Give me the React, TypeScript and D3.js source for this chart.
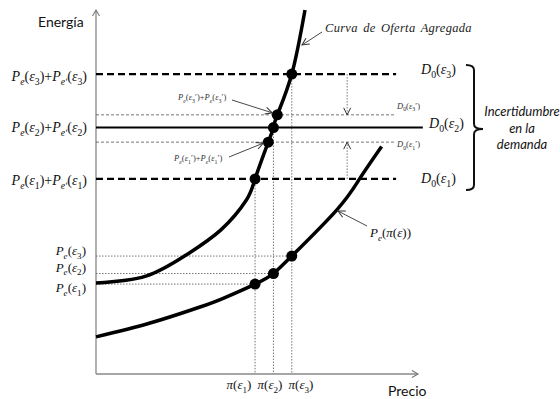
import React from "react";
import * as d3 from "d3";

// ---- data (price 0-100, energy 0-100) ----
const supplyPrice = [0, 15.5, 28, 38.8, 46.7, 49.4, 53.5, 55.1, 56.3, 60.8, 64.9];
const supplyEnergy = [25, 26.9, 32.7, 39.6, 47.8, 53.6, 63.7, 67.7, 71.2, 82.4, 100];
const pePrice = [0, 16.8, 32.3, 39.5, 49.4, 55.1, 60.8, 74.8, 82, 88.7];
const peEnergy = [10.2, 14, 18.4, 20.8, 24.7, 27.6, 32.4, 45.1, 53.8, 62.5];
const scenarios = ["1", "2", "3"];
const piValues = [49.4, 55.1, 60.8];
const demandLevels = [53.6, 67.7, 82.4];
const peAtPi = [24.7, 27.6, 32.4];
const primeLevels = [63.7, 71.2];
const primePrices = [53.5, 56.3];
const demandEnd = [93.2, 101.5, 93.2];
const uncertaintyArrowPrice = 78;

const W = 560, H = 399;
const x = d3.scaleLinear().domain([0, 100]).range([96, 418]);
const y = d3.scaleLinear().domain([0, 100]).range([374, 10]);

type Seg = { t: string; sub?: boolean; it?: boolean };

const SERIF = "'Liberation Serif', 'Times New Roman', serif";
const SANS = "Lato, 'Liberation Sans', Arial, sans-serif";

function MathT({ segs, fs, ...rest }: any) {
  const out: any[] = [];
  let shifted = false;
  segs.forEach((s: Seg, i: number) => {
    let dy = 0;
    if (s.sub && !shifted) { dy = fs * 0.3; shifted = true; }
    else if (!s.sub && shifted) { dy = -fs * 0.3; shifted = false; }
    out.push(
      <tspan key={i} dy={dy || undefined} fontSize={s.sub ? fs * 0.7 : fs} fontStyle={s.it ? "italic" : "normal"}>
        {s.t}
      </tspan>
    );
  });
  return (
    <text fontFamily={SERIF} fontSize={fs} {...rest}>
      {out}
    </text>
  );
}

const P = (sub: string, s: string, prime = false): Seg[] => [
  { t: "P", it: true },
  { t: sub, sub: true, it: true },
  { t: "(" },
  { t: "ε", it: true },
  { t: s, sub: true },
  { t: prime ? "ʹ)" : ")" },
];
const sumLabel = (s: string, prime = false): Seg[] => [
  ...P("e", s, prime),
  { t: "+" },
  ...P(prime ? "e" : "eʹ", s, prime),
];
const D0 = (s: string, prime = false): Seg[] => [
  { t: "D", it: true },
  { t: "0", sub: true },
  { t: "(" },
  { t: "ε", it: true },
  { t: s, sub: true },
  { t: prime ? "ʹ)" : ")" },
];
const piLabel = (s: string): Seg[] => [
  { t: "π", it: true },
  { t: "(" },
  { t: "ε", it: true },
  { t: s, sub: true },
  { t: ")" },
];

export default function App() {
  const line = d3.line<number>().curve(d3.curveNatural);
  const supplyPath = line(supplyPrice.map((p, i) => [x(p), y(supplyEnergy[i])] as any) as any);
  const pePath = line(pePrice.map((p, i) => [x(p), y(peEnergy[i])] as any) as any);
  const gray = "#666";
  const leftLabelOffsets = [2, 0, 3];
  const peLabelOffsets = [4, -6, -5];
  const d0Offsets = [8, 4, 4];
  const d0X = [421, 429, 421];
  const piLabelX = [239, 270, 301];

  return (
    <svg width={W} height={H} style={{ position: "absolute", left: 0, top: 0, background: "#fff" }}>
      <defs>
        <marker id="open" viewBox="-8 -5 10 10" refX="0" refY="0" markerWidth="10" markerHeight="10" orient="auto" markerUnits="userSpaceOnUse">
          <path d="M-7,-3.5 L0,0 L-7,3.5" fill="none" stroke="#333" strokeWidth={1} />
        </marker>
        <marker id="axisArrow" viewBox="-8 -5 10 10" refX="0" refY="0" markerWidth="10" markerHeight="10" orient="auto" markerUnits="userSpaceOnUse">
          <path d="M-6,-3.5 L0,0 L-6,3.5" fill="none" stroke="#777" strokeWidth={1.1} />
        </marker>
      </defs>
      <rect width={W} height={H} fill="#fff" />

      {/* axes */}
      <line x1={x(0)} y1={y(0)} x2={x(0)} y2={y(100)} stroke="#888" strokeWidth={1.3} markerEnd="url(#axisArrow)" />
      <line x1={x(0)} y1={y(0)} x2={x(100)} y2={y(0)} stroke="#888" strokeWidth={1.3} markerEnd="url(#axisArrow)" />
      <text x={38} y={27} fontFamily={SANS} fontSize={14} fill="#111">Energía</text>
      <text x={388} y={396} fontFamily={SANS} fontSize={14} fill="#111">Precio</text>

      {/* dotted guides */}
      {piValues.map((p, i) => (
        <g key={"g" + i}>
          <line x1={x(p)} x2={x(p)} y1={y(demandLevels[i])} y2={y(0)} stroke={gray} strokeWidth={0.9} strokeDasharray="1.5,1.5" />
          <line x1={x(0)} x2={x(p)} y1={y(peAtPi[i])} y2={y(peAtPi[i])} stroke={gray} strokeWidth={0.9} strokeDasharray="1.5,1.5" />
        </g>
      ))}
      {primeLevels.map((lv, i) => (
        <line key={"pl" + i} x1={x(0)} x2={x(93.2)} y1={y(lv)} y2={y(lv)} stroke={gray} strokeWidth={0.9} strokeDasharray="3,2" />
      ))}

      {/* demand lines */}
      {demandLevels.map((lv, i) => (
        <line key={"d" + i} x1={x(0)} x2={x(demandEnd[i])} y1={y(lv)} y2={y(lv)} stroke="#000"
          strokeWidth={i === 1 ? 2 : 2.2} strokeDasharray={i === 1 ? undefined : "7,4"} />
      ))}

      {/* uncertainty arrows */}
      <line x1={x(uncertaintyArrowPrice)} x2={x(uncertaintyArrowPrice)} y1={y(demandLevels[2])} y2={y(primeLevels[1])} stroke={gray} strokeWidth={0.9} strokeDasharray="1.5,1.5" markerEnd="url(#open)" />
      <line x1={x(uncertaintyArrowPrice)} x2={x(uncertaintyArrowPrice)} y1={y(demandLevels[0])} y2={y(primeLevels[0])} stroke={gray} strokeWidth={0.9} strokeDasharray="1.5,1.5" markerEnd="url(#open)" />

      {/* curves */}
      <path d={supplyPath || ""} fill="none" stroke="#000" strokeWidth={3.5} />
      <path d={pePath || ""} fill="none" stroke="#000" strokeWidth={3.5} />

      {/* dots */}
      {piValues.map((p, i) => (
        <g key={"dot" + i}>
          <circle cx={x(p)} cy={y(demandLevels[i])} r={5.5} fill="#000" />
          <circle cx={x(p)} cy={y(peAtPi[i])} r={5.5} fill="#000" />
        </g>
      ))}
      {primePrices.map((p, i) => (
        <circle key={"pd" + i} cx={x(p)} cy={y(primeLevels[i])} r={5.5} fill="#000" />
      ))}

      {/* left labels */}
      {scenarios.map((s, i) => (
        <MathT key={"ll" + i} segs={sumLabel(s)} fs={14} x={87} y={y(demandLevels[i]) + 4 + leftLabelOffsets[i]} textAnchor="end" fill="#111" />
      ))}
      {scenarios.map((s, i) => (
        <MathT key={"pl" + i} segs={P("e", s)} fs={13} x={86} y={y(peAtPi[i]) + 4 + peLabelOffsets[i]} textAnchor="end" fill="#111" />
      ))}

      {/* right D0 labels */}
      {scenarios.map((s, i) => (
        <MathT key={"d0" + i} segs={D0(s)} fs={14} x={d0X[i]} y={y(demandLevels[i]) + d0Offsets[i] - 4} fill="#111" />
      ))}
      <MathT segs={D0("3", true)} fs={8.5} x={397} y={y(primeLevels[1]) - 6} fill="#333" />
      <MathT segs={D0("1", true)} fs={8.5} x={397} y={y(primeLevels[0]) + 5} fill="#333" />

      {/* pi labels */}
      {scenarios.map((s, i) => (
        <MathT key={"pi" + i} segs={piLabel(s)} fs={13} x={piLabelX[i]} y={389} textAnchor="middle" fill="#111" />
      ))}

      {/* annotations */}
      <MathT segs={sumLabel("3", true)} fs={8.5} x={178} y={100} fill="#333" />
      <line x1={232} y1={100} x2={x(primePrices[1]) - 5} y2={y(primeLevels[1]) - 2} stroke="#333" strokeWidth={0.9} markerEnd="url(#open)" />
      <MathT segs={sumLabel("1", true)} fs={8.5} x={174} y={161} fill="#333" />
      <line x1={229} y1={157} x2={x(primePrices[0]) - 5} y2={y(primeLevels[0]) + 1} stroke="#333" strokeWidth={0.9} markerEnd="url(#open)" />

      <text x={325} y={32} fontFamily={SERIF} fontStyle="italic" fontSize={12.5} letterSpacing={0.3} wordSpacing={2} fill="#222">Curva de Oferta Agregada</text>
      <line x1={322} y1={32} x2={302} y2={45} stroke="#333" strokeWidth={0.9} markerEnd="url(#open)" />

      <MathT segs={[{ t: "P", it: true }, { t: "e", sub: true, it: true }, { t: "(" }, { t: "π", it: true }, { t: "(" }, { t: "ε", it: true }, { t: "))" }]} fs={13} x={370} y={237} fill="#111" />
      <line x1={367} y1={226} x2={338} y2={211} stroke="#333" strokeWidth={0.9} markerEnd="url(#open)" />

      {/* brace */}
      <path d="M466,65 Q474,65 474,70 L474,124 Q474,129 483,129 Q474,129 474,134 L474,185 Q474,190 466,190" fill="none" stroke="#111" strokeWidth={2} />
      <g fontFamily={SANS} fontStyle="italic" fontSize={13} fill="#111" textAnchor="middle">
        <text x={522} y={116}>Incertidumbre</text>
        <text x={522} y={133}>en la</text>
        <text x={522} y={149}>demanda</text>
      </g>
    </svg>
  );
}
